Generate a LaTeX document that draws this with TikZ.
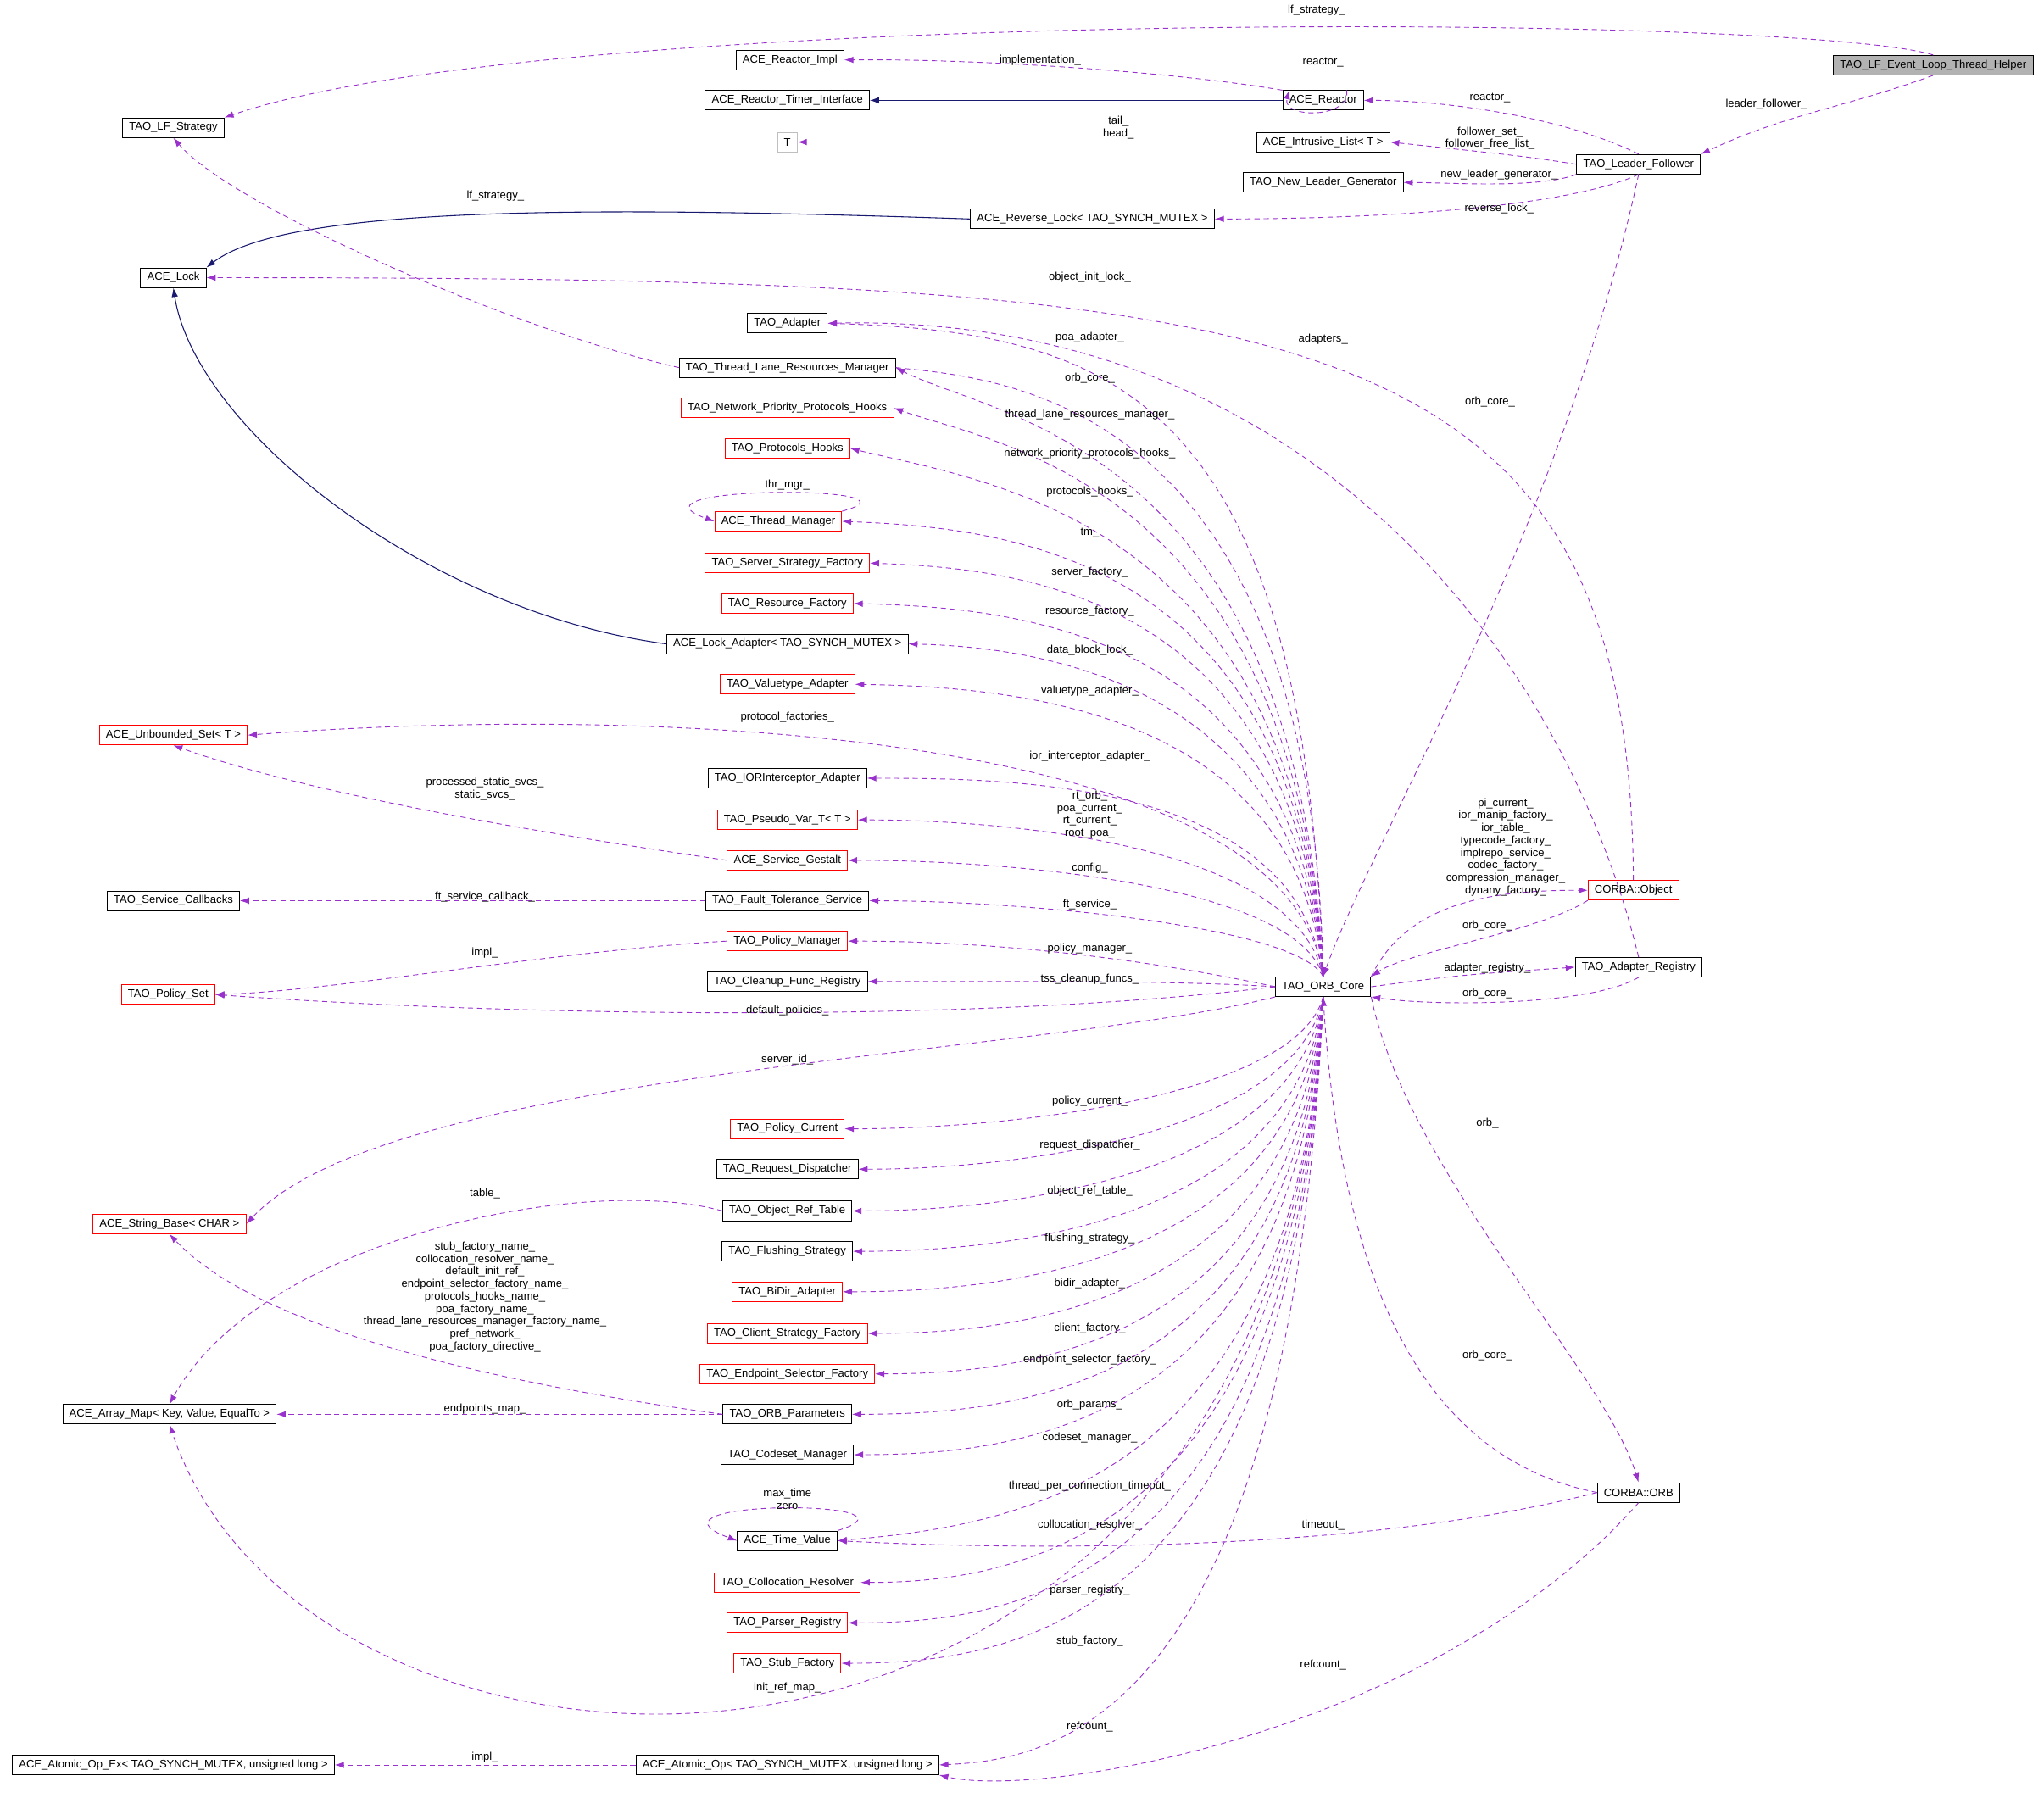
\documentclass[tikz,border=0pt]{standalone}
\usepackage{fontspec}
\setsansfont{Liberation Sans}
\usetikzlibrary{arrows.meta,positioning}
\definecolor{depcol}{RGB}{153,50,204}
\definecolor{inhcol}{RGB}{25,25,112}

\begin{document}
\begin{tikzpicture}[x=1pt,y=-1pt,>=Latex,
  cls/.style={draw=black,line width=0.6pt,font=\sffamily\fontsize{8.5}{9.6}\selectfont,inner xsep=5pt,inner ysep=1pt,minimum height=15pt,fill=white},
  redcls/.style={cls,draw=red},
  dep/.style={draw=depcol,line width=0.6pt,dash pattern=on 4pt off 3pt,-{Latex[length=7pt,width=5pt]}},
  inh/.style={draw=inhcol,line width=0.7pt,-{Latex[length=7pt,width=5pt]}},
  lbl/.style={font=\sffamily\fontsize{8.5}{9.6}\selectfont,align=center,inner sep=0pt}]
  \useasboundingbox (0,0) rectangle (1568,1379);

  % Classes
  \node[cls,fill=black!30] (helper) at (1483,50) {TAO\_LF\_Event\_Loop\_Thread\_Helper};
  \node[cls] (rimpl) at (606,46) {ACE\_Reactor\_Impl};
  \node[cls] (rti) at (604,77) {ACE\_Reactor\_Timer\_Interface};
  \node[cls] (reactor) at (1015,77) {ACE\_Reactor};
  \node[cls] (lfs) at (133,98) {TAO\_LF\_Strategy};
  \node[cls,draw=black!25] (tt) at (604,109) {T};
  \node[cls] (ilist) at (1015,109) {ACE\_Intrusive\_List< T >};
  \node[cls] (leader) at (1257,126) {TAO\_Leader\_Follower};
  \node[cls] (nlg) at (1015,140) {TAO\_New\_Leader\_Generator};
  \node[cls] (revlock) at (838,168) {ACE\_Reverse\_Lock< TAO\_SYNCH\_MUTEX >};
  \node[cls] (acelock) at (133,213) {ACE\_Lock};
  \node[cls] (adapter) at (604,248) {TAO\_Adapter};
  \node[cls] (tlrm) at (604,282) {TAO\_Thread\_Lane\_Resources\_Manager};
  \node[redcls] (npph) at (604,313) {TAO\_Network\_Priority\_Protocols\_Hooks};
  \node[redcls] (phooks) at (604,344) {TAO\_Protocols\_Hooks};
  \node[redcls] (thrmgr) at (597,400) {ACE\_Thread\_Manager};
  \node[redcls] (ssf) at (604,432) {TAO\_Server\_Strategy\_Factory};
  \node[redcls] (resf) at (604,463) {TAO\_Resource\_Factory};
  \node[cls] (lockad) at (604,494) {ACE\_Lock\_Adapter< TAO\_SYNCH\_MUTEX >};
  \node[redcls] (vta) at (604,525) {TAO\_Valuetype\_Adapter};
  \node[redcls] (uset) at (133,564) {ACE\_Unbounded\_Set< T >};
  \node[cls] (iora) at (604,597) {TAO\_IORInterceptor\_Adapter};
  \node[redcls] (pvar) at (604,629) {TAO\_Pseudo\_Var\_T< T >};
  \node[redcls] (sgest) at (604,660) {ACE\_Service\_Gestalt};
  \node[cls] (scb) at (133,691) {TAO\_Service\_Callbacks};
  \node[cls] (fts) at (604,691) {TAO\_Fault\_Tolerance\_Service};
  \node[redcls] (pman) at (604,722) {TAO\_Policy\_Manager};
  \node[cls] (cfr) at (604,753) {TAO\_Cleanup\_Func\_Registry};
  \node[redcls] (pset) at (129,763) {TAO\_Policy\_Set};
  \node[cls] (orb) at (1015,757) {TAO\_ORB\_Core};
  \node[redcls] (object) at (1253,683) {CORBA::Object};
  \node[cls] (adreg) at (1257,742) {TAO\_Adapter\_Registry};
  \node[redcls] (pcur) at (604,866) {TAO\_Policy\_Current};
  \node[cls] (rdisp) at (604,897) {TAO\_Request\_Dispatcher};
  \node[redcls] (sbase) at (130,939) {ACE\_String\_Base< CHAR >};
  \node[cls] (ort) at (604,929) {TAO\_Object\_Ref\_Table};
  \node[cls] (flush) at (604,960) {TAO\_Flushing\_Strategy};
  \node[redcls] (bidir) at (604,991) {TAO\_BiDir\_Adapter};
  \node[redcls] (csf) at (604,1023) {TAO\_Client\_Strategy\_Factory};
  \node[redcls] (esf) at (604,1054) {TAO\_Endpoint\_Selector\_Factory};
  \node[cls] (amap) at (130,1085) {ACE\_Array\_Map< Key, Value, EqualTo >};
  \node[cls] (orbp) at (604,1085) {TAO\_ORB\_Parameters};
  \node[cls] (csm) at (604,1116) {TAO\_Codeset\_Manager};
  \node[cls] (corbaorb) at (1257,1145) {CORBA::ORB};
  \node[cls] (tv) at (604,1182) {ACE\_Time\_Value};
  \node[redcls] (colres) at (604,1214) {TAO\_Collocation\_Resolver};
  \node[redcls] (preg) at (604,1245) {TAO\_Parser\_Registry};
  \node[redcls] (stubf) at (604,1276) {TAO\_Stub\_Factory};
  \node[cls] (atomex) at (133,1354) {ACE\_Atomic\_Op\_Ex< TAO\_SYNCH\_MUTEX, unsigned long >};
  \node[cls] (atom) at (604,1354) {ACE\_Atomic\_Op< TAO\_SYNCH\_MUTEX, unsigned long >};

  % Inheritance
  \draw[inh] (reactor) -- (rti);
  \draw[inh] (revlock.west) .. controls (450,158) and (220,158) .. (acelock.north east);
  \draw[inh] (lockad.west) .. controls (330,470) and (150,330) .. (acelock.south);

  % Top part
  \draw[dep] (helper.north) .. controls (1380,10) and (420,5) .. (lfs.north east);
  \node[lbl] at (1010,8) {lf\_strategy\_};
  \draw[dep] (helper.south) to[out=-160,in=25] (leader.north east);
  \node[lbl] at (1355,80) {leader\_follower\_};
  \draw[dep] (reactor.north west) .. controls (900,55) and (750,45) .. (rimpl.east);
  \node[lbl] at (798,46) {implementation\_};
  \draw[dep] ([xshift=18pt]reactor.north) .. controls ([xshift=22pt,yshift=-22pt]reactor.north) and ([xshift=-32pt,yshift=-22pt]reactor.north) .. ([xshift=-26pt]reactor.north);
  \node[lbl] at (1015,48) {reactor\_};
  \draw[dep] (leader.north) .. controls (1200,90) and (1110,77) .. (reactor.east);
  \node[lbl] at (1143,75) {reactor\_};
  \draw[dep] (ilist) -- (tt);
  \node[lbl] at (858,98) {tail\_\\head\_};
  \draw[dep] (leader.west) .. controls (1170,120) .. (ilist.east);
  \node[lbl] at (1143,106) {follower\_set\_\\follower\_free\_list\_};
  \draw[dep] (leader.south west) .. controls (1180,145) and (1110,140) .. (nlg.east);
  \node[lbl] at (1150,134) {new\_leader\_generator\_};
  \draw[dep] (leader.south) .. controls (1200,160) and (1050,168) .. (revlock.east);
  \node[lbl] at (1150,160) {reverse\_lock\_};
  \draw[dep] (tlrm.west) .. controls (400,255) and (180,160) .. (lfs.south);
  \node[lbl] at (380,150) {lf\_strategy\_};
  \draw[dep] (object.north) .. controls (1250,240) and (1000,213) .. (acelock.east);
  \node[lbl] at (836,213) {object\_init\_lock\_};
  \draw[dep] (adreg.north) .. controls (1200,500) and (1000,240) .. (adapter.east);
  \node[lbl] at (1015,260) {adapters\_};
  \draw[dep] (leader.south) .. controls (1200,400) and (1050,650) .. (orb.north);
  \node[lbl] at (1143,308) {orb\_core\_};

  % ORB core to upper classes
  \draw[dep] (orb.north) .. controls (1000,300) and (850,255) .. (adapter.east);
  \node[lbl] at (836,259) {poa\_adapter\_};
  \draw[dep] (tlrm.east) .. controls (760,290) and (1005,300) .. (orb.north);
  \node[lbl] at (836,290) {orb\_core\_};
  \draw[dep] (orb.north) .. controls (995,340) and (760,320) .. (tlrm.east);
  \node[lbl] at (836,318) {thread\_lane\_resources\_manager\_};
  \draw[dep] (orb.north) .. controls (995,370) and (760,340) .. (npph.east);
  \node[lbl] at (836,348) {network\_priority\_protocols\_hooks\_};
  \draw[dep] (orb.north) .. controls (995,400) and (760,370) .. (phooks.east);
  \node[lbl] at (836,377) {protocols\_hooks\_};
  \draw[dep] (thrmgr.north east) .. controls (720,372) and (470,372) .. (thrmgr.west);
  \node[lbl] at (604,372) {thr\_mgr\_};
  \draw[dep] (orb.north) .. controls (995,430) and (780,405) .. (thrmgr.east);
  \node[lbl] at (836,409) {tm\_};
  \draw[dep] (orb.north) .. controls (995,455) and (780,436) .. (ssf.east);
  \node[lbl] at (836,439) {server\_factory\_};
  \draw[dep] (orb.north) .. controls (995,485) and (780,466) .. (resf.east);
  \node[lbl] at (836,469) {resource\_factory\_};
  \draw[dep] (orb.north) .. controls (995,515) and (780,496) .. (lockad.east);
  \node[lbl] at (836,499) {data\_block\_lock\_};
  \draw[dep] (orb.north) .. controls (995,545) and (780,527) .. (vta.east);
  \node[lbl] at (836,530) {valuetype\_adapter\_};
  \draw[dep] (orb.north) .. controls (990,560) and (500,540) .. (uset.east);
  \node[lbl] at (604,550) {protocol\_factories\_};
  \draw[dep] (orb.north) .. controls (995,600) and (780,597) .. (iora.east);
  \node[lbl] at (836,580) {ior\_interceptor\_adapter\_};
  \draw[dep] (sgest.west) .. controls (420,640) and (240,610) .. (uset.south);
  \node[lbl] at (372,605) {processed\_static\_svcs\_\\static\_svcs\_};
  \draw[dep] (orb.north) .. controls (995,650) and (780,629) .. (pvar.east);
  \node[lbl] at (836,625) {rt\_orb\_\\poa\_current\_\\rt\_current\_\\root\_poa\_};
  \draw[dep] (orb.north) .. controls (995,680) and (780,660) .. (sgest.east);
  \node[lbl] at (836,666) {config\_};
  \draw[dep] (fts) -- (scb);
  \node[lbl] at (372,688) {ft\_service\_callback\_};
  \draw[dep] (orb.north) .. controls (995,710) and (780,691) .. (fts.east);
  \node[lbl] at (836,694) {ft\_service\_};
  \draw[dep] (pman.west) .. controls (420,730) and (260,760) .. (pset.east);
  \node[lbl] at (372,731) {impl\_};
  \draw[dep] (orb.west) .. controls (900,740) and (780,722) .. (pman.east);
  \node[lbl] at (836,728) {policy\_manager\_};
  \draw[dep] (orb.west) .. controls (900,752) and (780,753) .. (cfr.east);
  \node[lbl] at (836,751) {tss\_cleanup\_funcs\_};
  \draw[dep] (orb.west) .. controls (750,785) and (400,780) .. (pset.east);
  \node[lbl] at (604,775) {default\_policies\_};

  % ORB core to the right
  \draw[dep] (orb.north east) .. controls (1080,690) and (1150,683) .. (object.west);
  \node[lbl] at (1155,650) {pi\_current\_\\ior\_manip\_factory\_\\ior\_table\_\\typecode\_factory\_\\implrepo\_service\_\\codec\_factory\_\\compression\_manager\_\\dynany\_factory\_};
  \draw[dep] (object.south west) .. controls (1180,715) and (1080,730) .. (orb.north east);
  \node[lbl] at (1141,710) {orb\_core\_};
  \draw[dep] (orb.east) .. controls (1120,748) .. (adreg.west);
  \node[lbl] at (1141,743) {adapter\_registry\_};
  \draw[dep] (adreg.south) .. controls (1220,772) and (1100,772) .. (orb.south east);
  \node[lbl] at (1141,762) {orb\_core\_};
  \draw[dep] (orb.south east) .. controls (1080,900) and (1230,1050) .. (corbaorb.north);
  \node[lbl] at (1141,862) {orb\_};
  \draw[dep] (corbaorb.west) .. controls (1100,1120) and (1030,1000) .. (orb.south);
  \node[lbl] at (1141,1040) {orb\_core\_};

  % ORB core to lower classes
  \draw[dep] (orb.south west) .. controls (800,810) and (300,820) .. (sbase.east);
  \node[lbl] at (604,813) {server\_id\_};
  \draw[dep] (orb.south) .. controls (995,840) and (780,866) .. (pcur.east);
  \node[lbl] at (836,845) {policy\_current\_};
  \draw[dep] (orb.south) .. controls (995,870) and (780,897) .. (rdisp.east);
  \node[lbl] at (836,879) {request\_dispatcher\_};
  \draw[dep] (orb.south) .. controls (995,900) and (780,929) .. (ort.east);
  \node[lbl] at (836,914) {object\_ref\_table\_};
  \draw[dep] (ort.west) .. controls (450,900) and (200,950) .. (amap.north);
  \node[lbl] at (372,916) {table\_};
  \draw[dep] (orb.south) .. controls (995,935) and (780,960) .. (flush.east);
  \node[lbl] at (836,950) {flushing\_strategy\_};
  \draw[dep] (orb.south) .. controls (995,965) and (780,991) .. (bidir.east);
  \node[lbl] at (836,985) {bidir\_adapter\_};
  \draw[dep] (orb.south) .. controls (995,1000) and (780,1023) .. (csf.east);
  \node[lbl] at (836,1019) {client\_factory\_};
  \draw[dep] (orb.south) .. controls (995,1035) and (780,1054) .. (esf.east);
  \node[lbl] at (836,1043) {endpoint\_selector\_factory\_};
  \draw[dep] (orbp.west) .. controls (300,1050) and (180,1000) .. (sbase.south);
  \node[lbl] at (372,995) {stub\_factory\_name\_\\collocation\_resolver\_name\_\\default\_init\_ref\_\\endpoint\_selector\_factory\_name\_\\protocols\_hooks\_name\_\\poa\_factory\_name\_\\thread\_lane\_resources\_manager\_factory\_name\_\\pref\_network\_\\poa\_factory\_directive\_};
  \draw[dep] (orbp) -- (amap);
  \node[lbl] at (372,1081) {endpoints\_map\_};
  \draw[dep] (orb.south) .. controls (995,1065) and (780,1085) .. (orbp.east);
  \node[lbl] at (836,1078) {orb\_params\_};
  \draw[dep] (orb.south) .. controls (995,1095) and (780,1116) .. (csm.east);
  \node[lbl] at (836,1103) {codeset\_manager\_};
  \draw[dep] (tv.north east) .. controls (720,1150) and (480,1150) .. (tv.west);
  \node[lbl] at (604,1150) {max\_time\\zero};
  \draw[dep] (orb.south) .. controls (995,1140) and (780,1170) .. (tv.east);
  \node[lbl] at (836,1140) {thread\_per\_connection\_timeout\_};
  \draw[dep] (corbaorb.west) .. controls (1050,1190) and (800,1190) .. (tv.east);
  \node[lbl] at (1015,1170) {timeout\_};
  \draw[dep] (orb.south) .. controls (995,1180) and (780,1214) .. (colres.east);
  \node[lbl] at (836,1170) {collocation\_resolver\_};
  \draw[dep] (orb.south) .. controls (995,1215) and (780,1245) .. (preg.east);
  \node[lbl] at (836,1220) {parser\_registry\_};
  \draw[dep] (orb.south) .. controls (995,1245) and (780,1276) .. (stubf.east);
  \node[lbl] at (836,1259) {stub\_factory\_};
  \draw[dep] (orb.south) .. controls (985,1440) and (240,1420) .. (amap.south);
  \node[lbl] at (604,1295) {init\_ref\_map\_};
  \draw[dep] (orb.south) .. controls (990,1330) and (800,1350) .. (atom.east);
  \node[lbl] at (836,1325) {refcount\_};
  \draw[dep] (corbaorb.south) .. controls (1100,1330) and (800,1380) .. (atom.south east);
  \node[lbl] at (1015,1277) {refcount\_};
  \draw[dep] (atom) -- (atomex);
  \node[lbl] at (372,1348) {impl\_};
\end{tikzpicture}
\end{document}
